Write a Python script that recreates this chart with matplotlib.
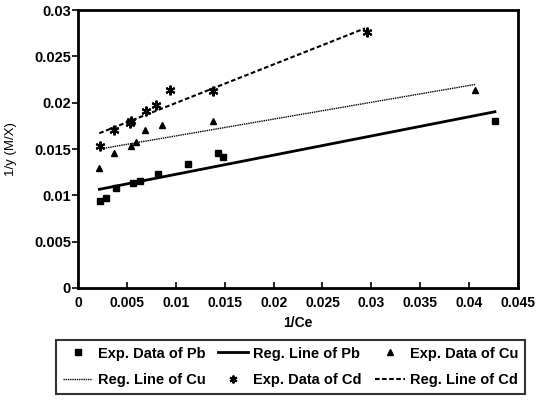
import matplotlib
matplotlib.use("Agg")
import matplotlib.pyplot as plt
import numpy as np

plt.rcParams['font.family'] = ['Liberation Sans', 'DejaVu Sans']

# Experimental data (1/Ce, 1/y)
pb_x = [0.00225, 0.00286, 0.00389, 0.00566, 0.00634, 0.00821, 0.01128, 0.01435, 0.01486, 0.04264]
pb_y = [0.00942, 0.00974, 0.01075, 0.01130, 0.01158, 0.01226, 0.01334, 0.01460, 0.01410, 0.01805]

cu_x = [0.00218, 0.00371, 0.00542, 0.00593, 0.00685, 0.00862, 0.01384, 0.04060]
cu_y = [0.01290, 0.01460, 0.01535, 0.01580, 0.01704, 0.01758, 0.01805, 0.02136]

cd_x = [0.00225, 0.00371, 0.00532, 0.00542, 0.00695, 0.00798, 0.00941, 0.01384, 0.02952]
cd_y = [0.01532, 0.01710, 0.01777, 0.01805, 0.01913, 0.01974, 0.02136, 0.02129, 0.02765]

# Regression lines: slope, intercept, x-range
pb_fit = (0.207, 0.0102, 0.00218, 0.04264)
cu_fit = (0.1815, 0.0146, 0.00218, 0.04060)
cd_fit = (0.4166, 0.0158, 0.00218, 0.02935)

x_ticks = [0, 0.005, 0.01, 0.015, 0.02, 0.025, 0.03, 0.035, 0.04, 0.045]
x_tick_labels = ["0", "0.005", "0.01", "0.015", "0.02", "0.025", "0.03", "0.035", "0.04", "0.045"]
y_ticks = [0, 0.005, 0.01, 0.015, 0.02, 0.025, 0.03]
y_tick_labels = ["0", "0.005", "0.01", "0.015", "0.02", "0.025", "0.03"]

fig = plt.figure(figsize=(5.37, 4.03), dpi=100)
ax = fig.add_axes([0.1453, 0.2854, 0.8193, 0.6896])

def fit_line(fit):
    m, b, x0, x1 = fit
    xs = np.array([x0, x1])
    return xs, m * xs + b

h_pb, = ax.plot(pb_x, pb_y, 's', color='black', ms=5, ls='none')
xs, ys = fit_line(pb_fit)
l_pb, = ax.plot(xs, ys, '-', color='black', lw=2)

h_cu, = ax.plot(cu_x, cu_y, '^', color='black', ms=5, ls='none')
xs, ys = fit_line(cu_fit)
l_cu, = ax.plot(xs, ys, color='black', lw=1, ls=(0, (1, 0.6)))

h_cd, = ax.plot(cd_x, cd_y, marker=(6, 2, 0), color='black', ms=7, mew=1.5, ls='none')
xs, ys = fit_line(cd_fit)
l_cd, = ax.plot(xs, ys, color='black', lw=1.5, ls=(0, (2.2, 1.2)))

ax.set_xlim(0, 0.045)
ax.set_ylim(0, 0.03)
ax.set_xticks(x_ticks)
ax.set_xticklabels(x_tick_labels, fontsize=10, fontweight='bold')
ax.set_yticks(y_ticks)
ax.set_yticklabels(y_tick_labels, fontsize=10.5, fontweight='bold')
ax.tick_params(axis='x', direction='in', length=4, width=1.2, pad=6)
ax.tick_params(axis='y', direction='out', length=4, width=1.2, pad=1)
for s in ax.spines.values():
    s.set_linewidth(2)

ax.set_xlabel("1/Ce", fontsize=10, fontweight='bold', labelpad=4)
ax.set_ylabel("1/y (M/X)", fontsize=9.5, labelpad=12)

handles = [h_pb, l_cu, l_pb, h_cd, h_cu, l_cd]
labels = ["Exp. Data of Pb", "Reg. Line of Cu", "Reg. Line of Pb",
          "Exp. Data of Cd", "Exp. Data of Cu", "Reg. Line of Cd"]
leg = fig.legend(handles, labels, ncol=3, loc='upper left',
                 bbox_to_anchor=(56 / 537, 1 - 340 / 403), borderaxespad=0,
                 frameon=True, fancybox=False, edgecolor='black',
                 prop={'size': 10.5, 'weight': 'bold'},
                 handlelength=2.05, handletextpad=0.35, columnspacing=0.9,
                 labelspacing=0.88, borderpad=0.45, markerscale=0.8)
leg.get_frame().set_linewidth(1.5)

fig.savefig("out.png", dpi=100)
